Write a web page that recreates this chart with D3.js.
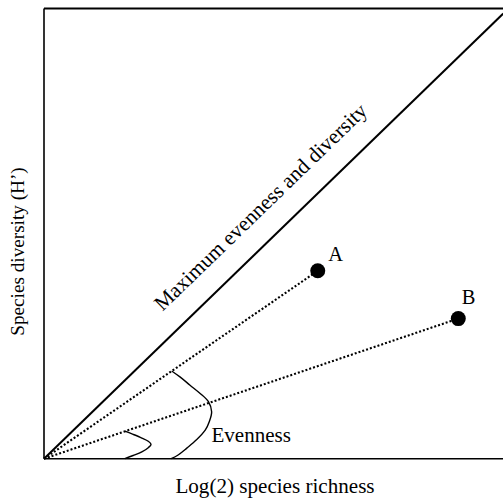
<!DOCTYPE html>
<html>
<head>
<meta charset="utf-8">
<script src="https://cdn.jsdelivr.net/npm/d3@7"></script>
<style>
  html, body { margin: 0; padding: 0; background: #fff; }
  svg { display: block; }
  text { font-family: "Liberation Serif", "DejaVu Serif", serif; fill: #000; }
</style>
</head>
<body>
<svg id="chart" width="503" height="499"></svg>
<script>
// Conceptual diagram: Shannon diversity vs log2 species richness
const maxLine = [[0, 0], [10, 9.69]];          // maximum evenness and diversity
const communityNames = ["A", "B"];
const communityRichness = [5.96, 9.02];
const communityDiversity = [4.09, 3.05];

// Evenness arcs (angle between the richness axis and each community ray)
const evennessOuter = [
  [2.78, 1.91], [2.96, 1.78], [3.18, 1.60], [3.40, 1.42], [3.58, 1.24],
  [3.65, 1.02], [3.60, 0.81], [3.51, 0.62], [3.32, 0.41], [3.11, 0.23],
  [2.92, 0.08], [2.77, 0.0]
];
const evennessInner = [
  [1.76, 0.60], [1.94, 0.53], [2.13, 0.45], [2.27, 0.38], [2.33, 0.31],
  [2.27, 0.24], [2.13, 0.15], [1.94, 0.07], [1.76, 0.0]
];

const xTitle = "Log(2) species richness";
const yTitle = "Species diversity (H\u2019)";
const maxLabel = "Maximum evenness and diversity";
const evennessLabel = "Evenness";

const svg = d3.select("#chart");
const x = d3.scaleLinear().domain([0, 10]).range([44, 503.3]);
const y = d3.scaleLinear().domain([0, 9.8]).range([458.7, 8.5]);

// Frame: left, top and bottom edges
const frame = svg.append("g").attr("stroke", "#000").attr("fill", "none");
frame.append("line")
  .attr("x1", x(0)).attr("x2", x(0)).attr("y1", y(0)).attr("y2", y(9.8))
  .attr("stroke-width", 1.6);
frame.append("line")
  .attr("x1", x(0)).attr("x2", x(10) + 5).attr("y1", y(9.8)).attr("y2", y(9.8))
  .attr("stroke-width", 1.8);
frame.append("line")
  .attr("x1", x(0)).attr("x2", x(10) + 5).attr("y1", y(0)).attr("y2", y(0))
  .attr("stroke-width", 1.6);

const line = d3.line().x(d => x(d[0])).y(d => y(d[1]));

// Maximum line
svg.append("path")
  .datum(maxLine)
  .attr("d", line)
  .attr("fill", "none")
  .attr("stroke", "#000")
  .attr("stroke-width", 2);

// Dotted rays from origin to each community
communityNames.forEach((n, i) => {
  svg.append("path")
    .datum([[0, 0], [communityRichness[i], communityDiversity[i]]])
    .attr("d", line)
    .attr("fill", "none")
    .attr("stroke", "#000")
    .attr("stroke-width", 2.1)
    .attr("stroke-dasharray", "2,2");
});

// Evenness arcs
const curve = d3.line().x(d => x(d[0])).y(d => y(d[1])).curve(d3.curveCatmullRom);
[evennessOuter, evennessInner].forEach(pts => {
  svg.append("path")
    .datum(pts)
    .attr("d", curve)
    .attr("fill", "none")
    .attr("stroke", "#000")
    .attr("stroke-width", 1.4);
});

// Community points and labels (label offsets in px from the point)
const labelOffset = [[10.5, -9.7], [3.4, -14.7]];
communityNames.forEach((n, i) => {
  svg.append("circle")
    .attr("cx", x(communityRichness[i]))
    .attr("cy", y(communityDiversity[i]))
    .attr("r", 7.5)
    .attr("fill", "#000");
  svg.append("text")
    .attr("x", x(communityRichness[i]) + labelOffset[i][0])
    .attr("y", y(communityDiversity[i]) + labelOffset[i][1])
    .attr("font-size", 20.5)
    .text(n);
});

// Label along the maximum line
const ang = Math.atan2(y(maxLine[1][1]) - y(0), x(maxLine[1][0]) - x(0)) * 180 / Math.PI;
const midX = 5.17;
const mid = [midX, midX * maxLine[1][1] / maxLine[1][0]];
svg.append("text")
  .attr("transform", `translate(${x(mid[0])},${y(mid[1])}) rotate(${ang})`)
  .attr("text-anchor", "middle")
  .attr("dy", -23)
  .attr("font-size", 21.3)
  .text(maxLabel);

svg.append("text")
  .attr("x", 211.5)
  .attr("y", 442)
  .attr("font-size", 21)
  .text(evennessLabel);

// Axis titles
svg.append("text")
  .attr("x", 275)
  .attr("y", 493)
  .attr("text-anchor", "middle")
  .attr("font-size", 21.1)
  .text(xTitle);

svg.append("text")
  .attr("transform", `translate(24,251.5) rotate(-90)`)
  .attr("text-anchor", "middle")
  .attr("font-size", 19.2)
  .text(yTitle);
</script>
</body>
</html>
